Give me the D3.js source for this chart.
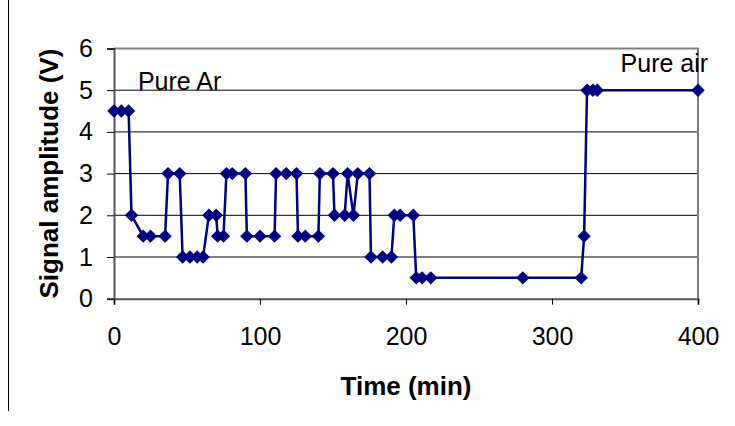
<!DOCTYPE html>
<html><head><meta charset="utf-8">
<script src="https://cdn.jsdelivr.net/npm/d3@7"></script>
<style>body{margin:0;background:#fff}svg{display:block}text{font-family:"Liberation Sans",Arial,sans-serif}</style>
</head><body>
<svg id="c" width="735" height="426"></svg>
<script>
const times = [0,5,10,12,20,25,35,37,45,47,52,57,61,65,70,71,75,77,81,90,91,100,110,111,118,125,126,131,140,141,150,151,158,160,164,167,175,176,184,190,192,196,205,207,211,217,280,320,322,324,328,331,400];
const amplitudes = [4.5,4.5,4.5,2,1.5,1.5,1.5,3,3,1,1,1,1,2,2,1.5,1.5,3,3,3,1.5,1.5,1.5,3,3,3,1.5,1.5,1.5,3,3,2,2,3,2,3,3,1,1,1,2,2,2,0.5,0.5,0.5,0.5,0.5,1.5,5,5,5,5];
const xTicks = [0,100,200,300,400];
const yTicks = [0,1,2,3,4,5,6];
const xTitle = "Time (min)";
const yTitle = "Signal amplitude (V)";
const annotations = [{text:"Pure Ar", t:16.4, v:5.0}, {text:"Pure air", t:347, v:5.44}];

const svg = d3.select("#c");
const x = d3.scaleLinear().domain([0,400]).range([114,698]);
const y = d3.scaleLinear().domain([0,6]).range([298.7,48.5]);
const navy = "#000080";
const fs = 25, tfs = 26;

// outer frame (left edge)
svg.append("line").attr("x1",8.5).attr("x2",8.5).attr("y1",0).attr("y2",411).attr("stroke","#000").attr("stroke-width",1);

// gridlines
svg.append("g").selectAll("line").data(yTicks.filter(d=>d>0 && d<6)).join("line")
  .attr("x1",x(0)).attr("x2",x(400)).attr("y1",d=>y(d)).attr("y2",d=>y(d))
  .attr("stroke","#000").attr("stroke-width",1);

// plot border top/right
svg.append("path").attr("d",`M${x(0)},${y(6)}H${x(400)}V${y(0)}`).attr("fill","none").attr("stroke","#808080").attr("stroke-width",2);

// axes
const xAxis = svg.append("g").attr("transform",`translate(0,${y(0)})`)
  .call(d3.axisBottom(x).tickValues(xTicks).tickSize(6).tickPadding(23).tickFormat(d3.format("d")));
const yAxis = svg.append("g").attr("transform",`translate(${x(0)},0)`)
  .call(d3.axisLeft(y).tickValues(yTicks).tickSize(7).tickPadding(14).tickFormat(d3.format("d")));
[xAxis,yAxis].forEach(a=>{
  a.select(".domain").attr("stroke","#555").attr("stroke-width",2);
  a.selectAll(".tick line").attr("stroke","#000");
  a.selectAll("text").attr("font-size",fs).attr("fill","#000").style("font-family","'Liberation Sans',Arial,sans-serif");
});
xAxis.selectAll("text").attr("dy","0.71em");

// line
const line = d3.line().x((d,i)=>x(times[i])).y(d=>y(d));
svg.append("path").datum(amplitudes).attr("d",line).attr("fill","none").attr("stroke",navy).attr("stroke-width",2.5);

// diamonds
const sym = d3.symbol().type(d3.symbolDiamond2).size(115);
svg.append("g").selectAll("path").data(amplitudes).join("path")
  .attr("transform",(d,i)=>`translate(${x(times[i])},${y(d)})`)
  .attr("d",sym).attr("fill",navy);

// annotations
svg.append("g").selectAll("text").data(annotations).join("text")
  .attr("x",d=>x(d.t)).attr("y",d=>y(d.v)).attr("font-size",fs).text(d=>d.text);

// titles
svg.append("text").attr("x",(x(0)+x(400))/2).attr("y",395).attr("text-anchor","middle")
  .attr("font-size",tfs).attr("font-weight","bold").text(xTitle);
svg.append("text").attr("transform",`translate(58,${(y(0)+y(6))/2}) rotate(-90)`).attr("text-anchor","middle")
  .attr("font-size",tfs).attr("font-weight","bold").text(yTitle);
</script>
</body></html>
